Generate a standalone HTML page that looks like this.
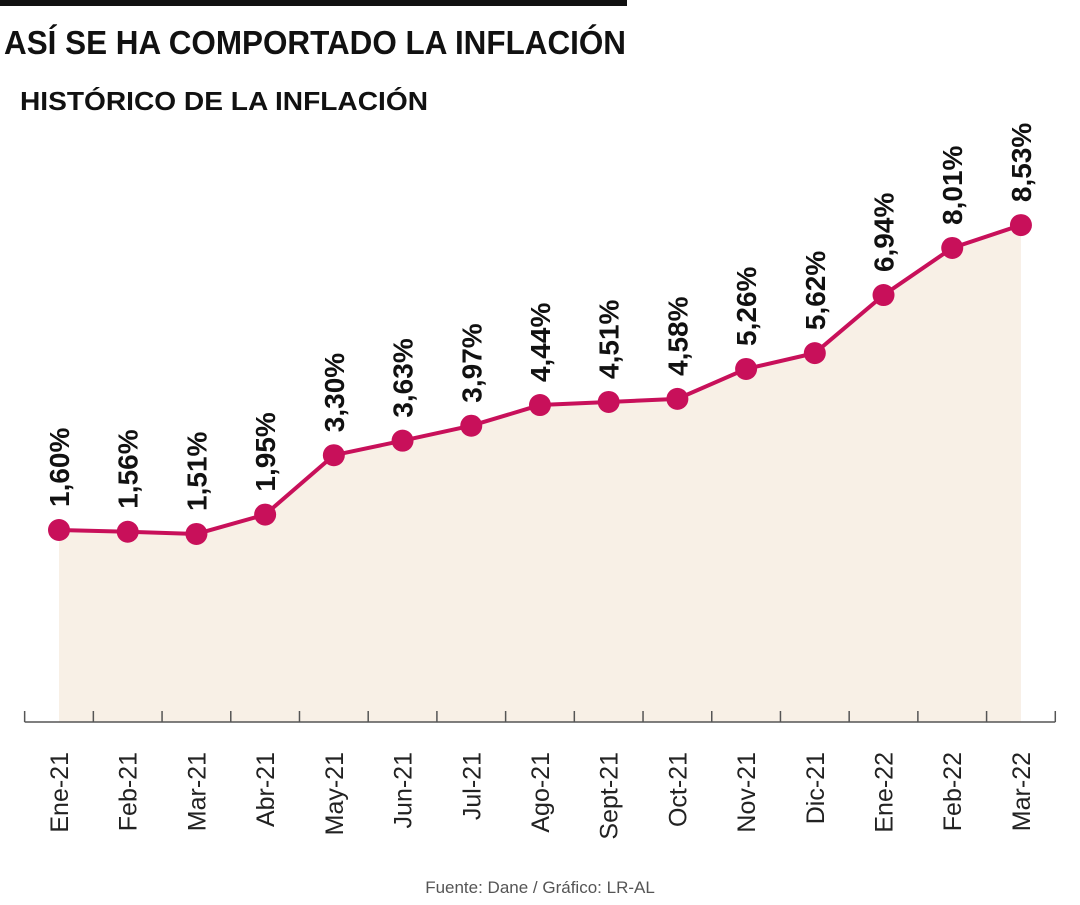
<!DOCTYPE html>
<html><head><meta charset="utf-8"><style>
body{margin:0;background:#fff;width:1080px;height:900px;overflow:hidden;font-family:"Liberation Sans",sans-serif}
</style></head><body>
<svg width="1080" height="900" xmlns="http://www.w3.org/2000/svg">
<rect x="0" y="0" width="627" height="6" fill="#111"/>
<text x="4" y="54" font-size="33" font-weight="bold" fill="#111" textLength="622" lengthAdjust="spacingAndGlyphs">ASÍ SE HA COMPORTADO LA INFLACIÓN</text>
<text x="20" y="110" font-size="26" font-weight="bold" fill="#111" textLength="408" lengthAdjust="spacingAndGlyphs">HISTÓRICO DE LA INFLACIÓN</text>
<g id="plot"></g>
<text x="540" y="893" font-size="17" fill="#555" text-anchor="middle">Fuente: Dane / Gráfico: LR-AL</text>
</svg>
<script>
const categories=["Ene-21","Feb-21","Mar-21","Abr-21","May-21","Jun-21","Jul-21","Ago-21","Sept-21","Oct-21","Nov-21","Dic-21","Ene-22","Feb-22","Mar-22"];
const values=[1.60,1.56,1.51,1.95,3.30,3.63,3.97,4.44,4.51,4.58,5.26,5.62,6.94,8.01,8.53];
const valueLabels=["1,60%","1,56%","1,51%","1,95%","3,30%","3,63%","3,97%","4,44%","4,51%","4,58%","5,26%","5,62%","6,94%","8,01%","8,53%"];
const NS="http://www.w3.org/2000/svg";
const g=document.getElementById('plot');
const x0=59,step=68.71,axisY=722;
const xs=i=>x0+i*step;
const ys=v=>600.4-v*44.0;
function mk(t,a){const e=document.createElementNS(NS,t);for(const k in a)e.setAttribute(k,a[k]);g.appendChild(e);return e;}
let pts=values.map((v,i)=>xs(i)+","+ys(v));
let area=mk('polygon',{points:xs(0)+","+axisY+" "+pts.join(" ")+" "+xs(values.length-1)+","+axisY,fill:"#f8f0e6"});


let ax=mk('line',{x1:xs(0)-step/2,x2:xs(values.length-1)+step/2,y1:axisY,y2:axisY,stroke:"#555","stroke-width":1.5});


for(let i=0;i<=values.length;i++){
 let t=mk('line',{x1:xs(i)-step/2,x2:xs(i)-step/2,y1:axisY-11,y2:axisY,stroke:"#555","stroke-width":1.5});
 
 
}
let ln=mk('polyline',{points:pts.join(" "),fill:"none",stroke:"#c8105a","stroke-width":4});


values.forEach((v,i)=>{
 let c=mk('circle',{cx:xs(i),cy:ys(v),r:11,fill:"#c8105a"});
 
 
 let tx=xs(i)+10,ty=ys(v)-23;
 let l=mk('text',{x:tx,y:ty,"font-size":28,"font-weight":"bold",fill:"#111",transform:`rotate(-90 ${tx} ${ty})`});
 l.textContent=valueLabels[i];
 
 
 let cx=xs(i)+9,cy=752;
 let c2=mk('text',{x:cx,y:cy,"font-size":25,fill:"#222","text-anchor":"end",transform:`rotate(-90 ${cx} ${cy})`});
 c2.textContent=categories[i];
 
 
});
</script>
</body></html>
